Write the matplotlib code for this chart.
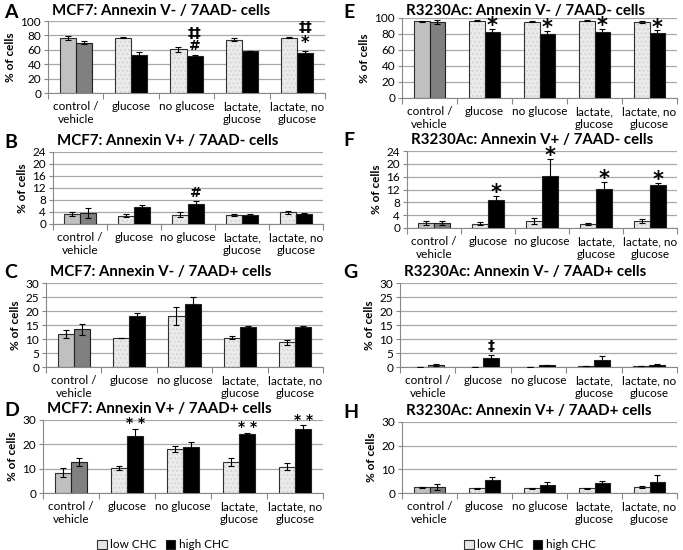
import numpy as np
import matplotlib
matplotlib.use("Agg")
import matplotlib.pyplot as plt
from matplotlib.patches import Patch

plt.rcParams['font.family'] = ['Lato', 'DejaVu Sans']

groups = ["control /\nvehicle", "glucose", "no glucose", "lactate,\nglucose", "lactate, no\nglucose"]

# panel data: low CHC / high CHC means and error bars
A_low = [76.5, 77.0, 60.5, 74.0, 77.0]
A_low_err = [2.5, 0.5, 3.0, 2.0, 0.5]
A_high = [70.0, 53.0, 51.5, 58.5, 56.0]
A_high_err = [2.0, 3.5, 1.0, 0.5, 3.0]

B_low = [3.3, 2.8, 3.1, 2.9, 3.9]
B_low_err = [0.6, 0.4, 0.8, 0.3, 0.4]
B_high = [3.7, 5.7, 6.7, 3.0, 3.5]
B_high_err = [1.7, 0.6, 1.0, 0.2, 0.2]

C_low = [11.8, 10.3, 18.2, 10.5, 8.8]
C_low_err = [1.3, 0.1, 3.3, 0.6, 1.0]
C_high = [13.5, 18.3, 22.6, 14.3, 14.3]
C_high_err = [2.0, 0.9, 2.3, 0.3, 0.3]

D_low = [8.3, 10.2, 18.2, 12.8, 10.8]
D_low_err = [1.8, 0.9, 1.2, 1.5, 1.4]
D_high = [12.7, 23.5, 19.0, 24.4, 26.2]
D_high_err = [1.8, 2.8, 1.8, 0.4, 1.7]

E_low = [96.0, 96.5, 95.5, 96.5, 95.0]
E_low_err = [0.5, 0.5, 0.5, 0.5, 1.0]
E_high = [95.0, 83.0, 80.0, 82.0, 81.5]
E_high_err = [2.0, 3.0, 4.0, 4.0, 3.0]

F_low = [1.5, 1.4, 2.2, 1.2, 2.2]
F_low_err = [0.6, 0.5, 1.0, 0.4, 0.6]
F_high = [1.5, 8.8, 16.2, 12.1, 13.5]
F_high_err = [0.7, 1.3, 5.4, 2.2, 0.4]

G_low = [0.1, 0.1, 0.1, 0.3, 0.4]
G_low_err = [0.05, 0.05, 0.05, 0.05, 0.05]
G_high = [0.6, 3.2, 0.6, 2.4, 0.8]
G_high_err = [0.3, 1.2, 0.2, 1.5, 0.2]

H_low = [2.4, 2.0, 2.1, 2.1, 2.5]
H_low_err = [0.2, 0.3, 0.2, 0.2, 0.4]
H_high = [2.5, 5.3, 3.4, 4.2, 4.6]
H_high_err = [1.3, 1.3, 1.3, 1.0, 2.9]

# marks: (group index, symbol, offset above error bar, font size)
star4_E = [(i, "*", -9, 15) for i in range(1, 5)]
star4_F = [(i, "*", -2.2, 15) for i in range(1, 5)]

# (letter, title, low, low_err, high, high_err, ymax, ystep, pixel box, marks)
panels = [
    ("A", "MCF7: Annexin V- / 7AAD- cells", A_low, A_low_err, A_high, A_high_err, 100, 20,
     (48, 325, 21, 93), [(2, "‡‡", 21, 10), (2, "#", 3, 10), (4, "‡‡", 23, 10), (4, "*", -2, 12)]),
    ("B", "MCF7: Annexin V+ / 7AAD- cells", B_low, B_low_err, B_high, B_high_err, 24, 4,
     (53, 323, 152, 224), [(2, "#", 0.4, 10)]),
    ("C", "MCF7: Annexin V- / 7AAD+ cells", C_low, C_low_err, C_high, C_high_err, 30, 5,
     (46, 323, 283, 367), []),
    ("D", "MCF7: Annexin V+ / 7AAD+ cells", D_low, D_low_err, D_high, D_high_err, 30, 10,
     (43, 323, 420, 493), [(i, "* *", -0.6, 10) for i in (1, 3, 4)]),
    ("E", "R3230Ac: Annexin V- / 7AAD- cells", E_low, E_low_err, E_high, E_high_err, 100, 20,
     (402, 677, 18, 98), star4_E),
    ("F", "R3230Ac: Annexin V+ / 7AAD- cells", F_low, F_low_err, F_high, F_high_err, 24, 4,
     (407, 677, 151, 228), star4_F),
    ("G", "R3230Ac: Annexin V- / 7AAD+ cells", G_low, G_low_err, G_high, G_high_err, 30, 5,
     (400, 677, 283, 367), [(1, "‡", 0.6, 10)]),
    ("H", "R3230Ac: Annexin V+ / 7AAD+ cells", H_low, H_low_err, H_high, H_high_err, 30, 10,
     (402, 677, 422, 493), []),
]

W, H = 683, 550
fig = plt.figure(figsize=(W / 100, H / 100), dpi=100)

x = np.arange(len(groups))
bw = 0.29
low_fill = ["#c0c0c0"] + ["#ebebeb"] * 4
high_fill = ["#808080"] + ["#000000"] * 4

for letter, title, low, lerr, high, herr, ymax, ystep, box, marks in panels:
    x0, x1, y0, y1 = box
    ax = fig.add_axes([x0 / W, 1 - y1 / H, (x1 - x0) / W, (y1 - y0) / H])

    # low CHC: faint dotted fill, then outline on top
    ax.bar(x - bw / 2, low, bw, color=low_fill, edgecolor="#d6d6d6", hatch="....",
           linewidth=0, zorder=2)
    ax.bar(x[:1] - bw / 2, low[:1], bw, color=low_fill[0], linewidth=0, zorder=2)
    ax.bar(x - bw / 2, low, bw, fill=False, edgecolor="#303030", linewidth=0.8, zorder=3)
    ax.bar(x + bw / 2, high, bw, color=high_fill, edgecolor="#202020", linewidth=0.8, zorder=3)
    ax.errorbar(x - bw / 2, low, yerr=lerr, fmt="none", ecolor="black", elinewidth=0.8,
                capsize=2, capthick=0.8, zorder=4)
    ax.errorbar(x + bw / 2, high, yerr=herr, fmt="none", ecolor="black", elinewidth=0.8,
                capsize=2, capthick=0.8, zorder=4)

    # significance marks, offset above the error bar top
    for gi, txt, off, size in marks:
        top = high[gi] + herr[gi] + off
        ax.text(x[gi] + bw / 2, top, txt, ha="center", va="bottom", fontsize=size,
                fontweight="bold", family="DejaVu Sans", clip_on=False)

    ax.set_xlim(-0.5, len(groups) - 0.5)
    ax.set_ylim(0, ymax)
    ax.set_yticks(np.arange(0, ymax + 0.1, ystep))
    ax.yaxis.grid(True, color="#a8a8a8", linewidth=0.9, zorder=0)
    ax.set_axisbelow(True)
    ax.set_xticks(x)
    ax.set_xticklabels(groups, fontsize=8.5, linespacing=1.15)
    ax.set_xticks(np.arange(-0.5, len(groups)), minor=True)
    ax.tick_params(axis="x", which="major", length=0, pad=6)
    ax.tick_params(axis="x", which="minor", length=4, color="#888888", width=0.8)
    ax.tick_params(axis="y", labelsize=8.5, length=3, color="#888888", width=0.8, pad=2)
    for s in ["top", "right"]:
        ax.spines[s].set_visible(False)
    for s in ["left", "bottom"]:
        ax.spines[s].set_color("#888888")
        ax.spines[s].set_linewidth(0.8)
    ax.set_ylabel("% of cells", fontsize=8.5, fontweight="bold", labelpad=3)

    # panel letter and title above the plot area
    ty = max(y0 - 11, 11)
    lx = 4 if x0 < 300 else 343
    fig.text(lx / W, 1 - (ty + 1) / H, letter, fontsize=14,
             fontweight="bold", va="center", ha="left")
    fig.text((x0 + 4) / W, 1 - ty / H, title, fontsize=10.8, fontweight="bold",
             va="center", ha="left")

# legends at the bottom
handles = [Patch(facecolor="#e6e6e6", edgecolor="#303030", linewidth=0.8, label="low CHC"),
           Patch(facecolor="black", edgecolor="#202020", linewidth=0.8, label="high CHC")]
for cx in [163, 530]:
    fig.legend(handles=handles, loc="center", bbox_to_anchor=(cx / W, 1 - 545 / H),
               ncol=2, frameon=False, fontsize=8.5, handlelength=0.8, handleheight=0.8,
               handletextpad=0.3, columnspacing=0.8)

fig.savefig("out.png", dpi=100)
